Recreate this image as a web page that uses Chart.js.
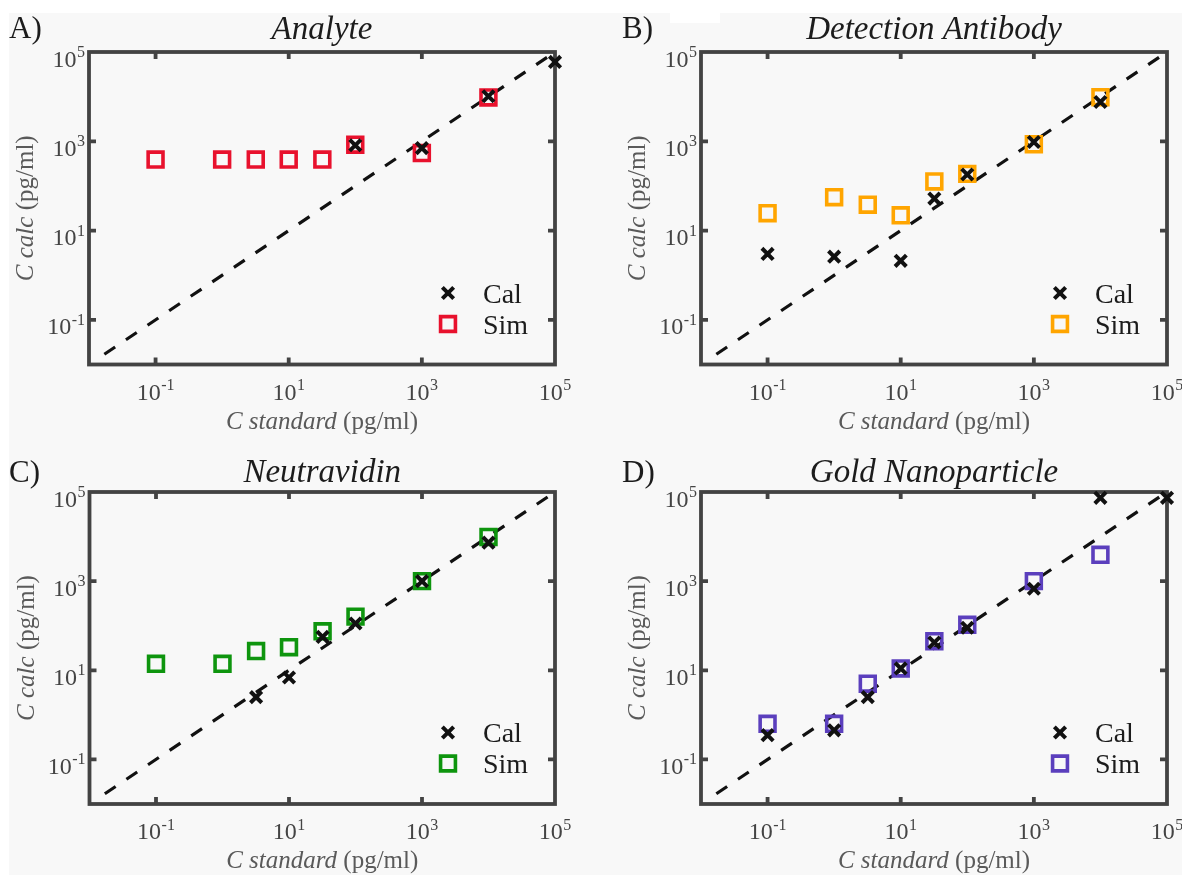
<!DOCTYPE html>
<html>
<head>
<meta charset="utf-8">
<script src="https://cdn.jsdelivr.net/npm/chart.js@4.4.1/dist/chart.umd.min.js"></script>
<style>
html,body{margin:0;padding:0;background:#ffffff;width:1182px;height:875px;overflow:hidden;}
#bg{position:absolute;left:9px;top:13px;width:1173px;height:862px;background:#f8f8f8;}
#patch{position:absolute;left:670px;top:13px;width:50px;height:10px;background:#ffffff;}
.pc{position:absolute;}
canvas{display:block;}
</style>
</head>
<body>
<div id="bg"></div>
<div id="patch"></div>
<div class="pc" id="p0"><canvas id="c0"></canvas></div>
<div class="pc" id="p1"><canvas id="c1"></canvas></div>
<div class="pc" id="p2"><canvas id="c2"></canvas></div>
<div class="pc" id="p3"><canvas id="c3"></canvas></div>
<script>
// ---------------- data ----------------
const panelLetters = ['A)', 'B)', 'C)', 'D)'];
const panelTitles = ['Analyte', 'Detection Antibody', 'Neutravidin', 'Gold Nanoparticle'];
const simColors = ['#e8112d', '#ffa500', '#0e950e', '#5b3fbd'];
const legendLabels = ['Cal', 'Sim'];
const axisTickValues = [0.1, 10, 1000, 100000];
const axisRange = [0.01, 100000];
const identityLine = [0.017, 100000];
const xTitleItalic = 'C standard';
const yTitleItalic = 'C calc';
const unitText = ' (pg/ml)';

// Analyte
const calX_A = [100, 1000, 10000, 100000];
const calY_A = [815, 705, 10200, 60000];
const simX_A = [0.1, 1, 3.2, 10, 32, 100, 1000, 10000];
const simY_A = [390, 390, 390, 390, 390, 840, 546, 9600];
// Detection Antibody
const calX_B = [0.1, 1, 10, 32, 100, 1000, 10000];
const calY_B = [3.0, 2.6, 2.1, 52, 180, 965, 7600];
const simX_B = [0.1, 1, 3.2, 10, 32, 100, 1000, 10000];
const simY_B = [24.5, 56, 38, 22, 126, 186, 855, 9700];
// Neutravidin
const calX_C = [3.2, 10, 32, 100, 1000, 10000];
const calY_C = [2.5, 6.9, 56, 112, 1000, 7300];
const simX_C = [0.1, 1, 3.2, 10, 32, 100, 1000, 10000];
const simY_C = [14, 14, 27, 33, 75, 160, 1000, 9800];
// Gold Nanoparticle
const calX_D = [0.1, 1, 3.2, 10, 32, 100, 1000, 10000, 100000];
const calY_D = [0.35, 0.45, 2.5, 11, 42, 90, 675, 74000, 74000];
const simX_D = [0.1, 1, 3.2, 10, 32, 100, 1000, 10000];
const simY_D = [0.63, 0.63, 5, 11, 45, 105, 1000, 3900];

const calXs = [calX_A, calX_B, calX_C, calX_D];
const calYs = [calY_A, calY_B, calY_C, calY_D];
const simXs = [simX_A, simX_B, simX_C, simX_D];
const simYs = [simY_A, simY_B, simY_C, simY_D];

// ---------------- layout (positions / styles) ----------------
const layouts = [
  {left: 0,   top: 0,   w: 590, h: 437, area: [89, 52, 555, 364.5], letter: [9, 37.5],  titleY: 39},
  {left: 590, top: 0,   w: 592, h: 437, area: [111, 52, 577, 364.5], letter: [32, 37.5], titleY: 39},
  {left: 0,   top: 437, w: 590, h: 438, area: [89.5, 55, 555, 367], letter: [9, 44.5],  titleY: 44.5},
  {left: 590, top: 437, w: 592, h: 438, area: [111, 55, 577, 367], letter: [32, 44.5], titleY: 44.5}
];
const SERIF = '"Liberation Serif", "Times New Roman", serif';
const BOX_COLOR = '#434343';
const TICK_TEXT = '#444444';
const TITLE_TEXT = '#5a5a5a';
const DARK = '#1c1c1c';

function pts(xs, ys) { return xs.map((x, i) => ({x: x, y: ys[i]})); }

function drawPow(ctx, exp, x, baseline, align) {
  const base = '10';
  const e = String(exp);
  ctx.font = '24px ' + SERIF;
  const w1 = ctx.measureText(base).width;
  ctx.font = '16px ' + SERIF;
  const w2 = ctx.measureText(e).width;
  const total = w1 + w2 + 0.5;
  let sx = align === 'right' ? x - total : x - total / 2;
  ctx.textAlign = 'left';
  ctx.textBaseline = 'alphabetic';
  ctx.fillStyle = TICK_TEXT;
  ctx.font = '24px ' + SERIF;
  ctx.fillText(base, sx, baseline);
  ctx.font = '16px ' + SERIF;
  ctx.fillText(e, sx + w1 + 0.5, baseline - 9.5);
}

function drawMixed(ctx, italicPart, plainPart, cx, baseline) {
  ctx.font = 'italic 25px ' + SERIF;
  const w1 = ctx.measureText(italicPart).width;
  ctx.font = '25px ' + SERIF;
  const w2 = ctx.measureText(plainPart).width;
  const sx = cx - (w1 + w2) / 2;
  ctx.textAlign = 'left';
  ctx.textBaseline = 'alphabetic';
  ctx.fillStyle = TITLE_TEXT;
  ctx.font = 'italic 25px ' + SERIF;
  ctx.fillText(italicPart, sx, baseline);
  ctx.font = '25px ' + SERIF;
  ctx.fillText(plainPart, sx + w1, baseline);
}

function makeDecor(idx) {
  const L = layouts[idx];
  return {
    id: 'decor' + idx,
    beforeDatasetsDraw(chart) {
      const ctx = chart.ctx;
      const a = chart.chartArea;
      const xs = chart.scales.x, ys = chart.scales.y;
      ctx.save();
      ctx.strokeStyle = BOX_COLOR;
      ctx.lineWidth = 3.8;
      ctx.strokeRect(a.left, a.top, a.right - a.left, a.bottom - a.top);
      ctx.lineWidth = 3.8;
      ctx.beginPath();
      xs.ticks.forEach(t => {
        const px = xs.getPixelForValue(t.value);
        if (px > a.left + 2 && px < a.right - 2) {
          ctx.moveTo(px, a.bottom); ctx.lineTo(px, a.bottom - 7);
          ctx.moveTo(px, a.top); ctx.lineTo(px, a.top + 7);
        }
      });
      ys.ticks.forEach(t => {
        const py = ys.getPixelForValue(t.value);
        if (py > a.top + 2 && py < a.bottom - 2) {
          ctx.moveTo(a.left, py); ctx.lineTo(a.left + 7, py);
          ctx.moveTo(a.right, py); ctx.lineTo(a.right - 7, py);
        }
      });
      ctx.stroke();
      ctx.restore();
    },
    afterDraw(chart) {
      const ctx = chart.ctx;
      const a = chart.chartArea;
      const xs = chart.scales.x, ys = chart.scales.y;
      ctx.save();
      // tick labels
      xs.ticks.forEach(t => {
        const px = xs.getPixelForValue(t.value);
        drawPow(ctx, Math.round(Math.log10(t.value)), px, a.bottom + 35, 'center');
      });
      ys.ticks.forEach(t => {
        const py = ys.getPixelForValue(t.value);
        drawPow(ctx, Math.round(Math.log10(t.value)), a.left - 4, py + 14.5, 'right');
      });
      // axis titles
      drawMixed(ctx, xTitleItalic, unitText, (a.left + a.right) / 2, a.bottom + 64);
      ctx.save();
      ctx.translate(a.left - 56, (a.top + a.bottom) / 2);
      ctx.rotate(-Math.PI / 2);
      drawMixed(ctx, yTitleItalic, unitText, 0, 0);
      ctx.restore();
      // panel title
      ctx.fillStyle = DARK;
      ctx.textAlign = 'center';
      ctx.textBaseline = 'alphabetic';
      ctx.font = 'italic 33px ' + SERIF;
      ctx.fillText(panelTitles[idx], (a.left + a.right) / 2, L.titleY);
      // panel letter
      ctx.textAlign = 'left';
      ctx.font = '31px ' + SERIF;
      ctx.fillText(panelLetters[idx], L.letter[0], L.letter[1]);
      // legend
      const ds = chart.data.datasets;
      const mx = a.right - 107;
      const tx = a.right - 72;
      const rows = [a.bottom - 71.5, a.bottom - 40.5];
      [0, 1].forEach(k => {
        const d = ds[k];
        const cy = rows[k];
        ctx.strokeStyle = d.borderColor;
        ctx.lineWidth = d.borderWidth;
        ctx.beginPath();
        if (d.pointStyle === 'crossRot') {
          const o = d.pointRadius * Math.SQRT1_2;
          ctx.moveTo(mx - o, cy - o); ctx.lineTo(mx + o, cy + o);
          ctx.moveTo(mx - o, cy + o); ctx.lineTo(mx + o, cy - o);
        } else {
          const s = d.pointRadius * Math.SQRT1_2;
          ctx.rect(mx - s, cy - s, 2 * s, 2 * s);
        }
        ctx.stroke();
        ctx.fillStyle = DARK;
        ctx.font = '28px ' + SERIF;
        ctx.textAlign = 'left';
        ctx.fillText(d.label, tx, cy + 9.5);
      });
      ctx.restore();
    }
  };
}

function makeChart(idx) {
  const L = layouts[idx];
  const wrap = document.getElementById('p' + idx);
  wrap.style.left = L.left + 'px';
  wrap.style.top = L.top + 'px';
  wrap.style.width = L.w + 'px';
  wrap.style.height = L.h + 'px';
  const cv = document.getElementById('c' + idx);
  cv.width = L.w; cv.height = L.h;
  cv.style.width = L.w + 'px'; cv.style.height = L.h + 'px';
  const [aL, aT, aR, aB] = L.area;
  const scaleBase = {
    type: 'logarithmic',
    min: axisRange[0],
    max: axisRange[1],
    grid: {display: false},
    border: {display: false},
    ticks: {display: false},
    afterBuildTicks: s => { s.ticks = axisTickValues.map(v => ({value: v})); }
  };
  return new Chart(cv, {
    type: 'scatter',
    data: {
      datasets: [
        {
          label: legendLabels[0],
          data: pts(calXs[idx], calYs[idx]),
          pointStyle: 'crossRot',
          pointRadius: 8,
          pointHoverRadius: 8,
          borderColor: '#111111',
          backgroundColor: 'rgba(0,0,0,0)',
          borderWidth: 4,
          pointBorderWidth: 4,
          showLine: false,
          clip: false
        },
        {
          label: legendLabels[1],
          data: pts(simXs[idx], simYs[idx]),
          pointStyle: 'rect',
          pointRadius: 10.5,
          pointHoverRadius: 10.5,
          borderColor: simColors[idx],
          backgroundColor: 'rgba(0,0,0,0)',
          borderWidth: 3.6,
          pointBorderWidth: 3.6,
          showLine: false,
          clip: false
        },
        {
          label: 'y = x',
          data: pts(identityLine, identityLine),
          showLine: true,
          borderColor: '#111111',
          borderWidth: 3.2,
          borderDash: [13, 13],
          pointRadius: 0,
          pointHoverRadius: 0,
          fill: false,
          clip: false
        }
      ]
    },
    options: {
      responsive: false,
      animation: false,
      events: [],
      devicePixelRatio: 1,
      layout: {padding: {left: 0, top: aT, right: L.w - aR, bottom: 0}},
      plugins: {legend: {display: false}, tooltip: {enabled: false}, title: {display: false}},
      scales: {
        x: Object.assign({}, scaleBase, {position: 'bottom', afterFit: s => { s.height = L.h - aB; }}),
        y: Object.assign({}, scaleBase, {position: 'left', afterFit: s => { s.width = aL; }})
      }
    },
    plugins: [makeDecor(idx)]
  });
}

[0, 1, 2, 3].forEach(makeChart);
</script>
</body>
</html>
